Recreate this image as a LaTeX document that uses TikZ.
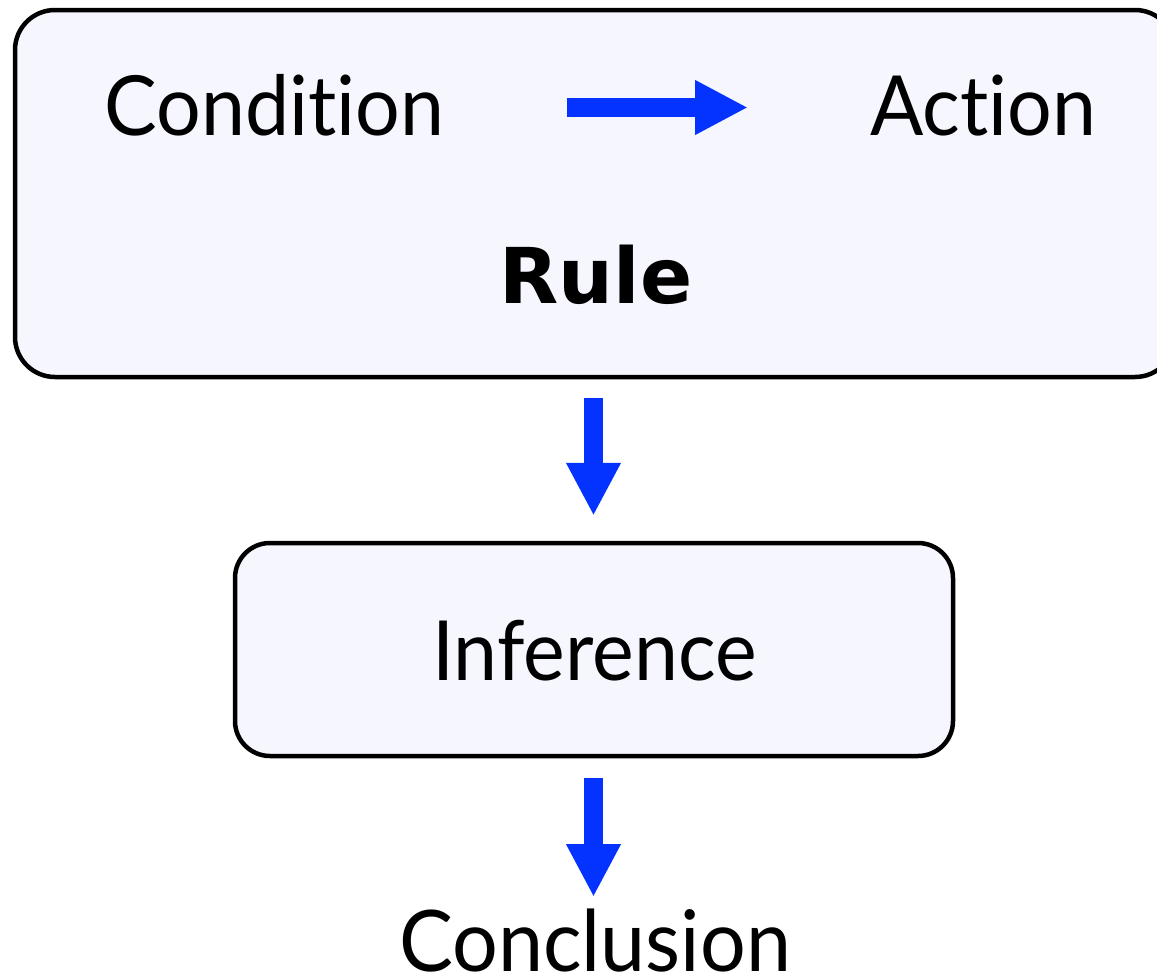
\documentclass[tikz,border=0pt]{standalone}
\usepackage{fontspec}
\setmainfont{Lato}[Ligatures=NoCommon,FakeStretch=0.95]
\newfontfamily\rulefont{DejaVu Sans}
\usetikzlibrary{arrows.meta}
\definecolor{flowblue}{RGB}{4,51,255}
\definecolor{boxfill}{RGB}{246,246,255}
\begin{document}
\begin{tikzpicture}[x=1pt,y=-1pt,
  panel/.style={draw=black,line width=4.5pt,fill=boxfill,rounded corners=#1,inner sep=0pt},
  word/.style={inner sep=0pt,anchor=base,text depth=0pt,font=\fontsize{83}{90}\selectfont},
  flow/.style={draw=flowblue,line width=19pt,-{Triangle[length=53pt,width=51pt]}}]
\useasboundingbox (0,0) rectangle (1157,977);
% rule panel (runs past the right edge)
\node[panel=40pt,minimum width=1160pt,minimum height=367pt] (rule) at (595,193.5) {};
% inference panel
\node[panel=35pt,minimum width=718pt,minimum height=213pt] (inf) at (594,649.5) {};
% texts
\node[word] (cond) at (274.5,135) {Condition};
\node[word] (act) at (983.5,135) {Action};
\node[inner sep=0pt,anchor=base,font=\rulefont\bfseries\fontsize{77}{80}\selectfont] (rulelbl) at (596,303) {Rule};
\node[word] (inflbl) at (594.5,680) {Inference};
\node[word,font=\fontsize{85}{90}\selectfont] (concl) at (595,971) {Conclusion};
% connectors
\coordinate (cs) at (567,107.5);
\coordinate (ce) at (748,107.5);
\draw[flow] (cs) -- (ce);
\draw[flow,shorten <=19pt,shorten >=25pt] ([xshift=-1.5pt]rule.south) -- ([xshift=-0.5pt]inf.north);
\draw[flow,shorten <=20pt] ([xshift=-0.5pt]inf.south) -- (593.5,897);
\end{tikzpicture}
\end{document}
